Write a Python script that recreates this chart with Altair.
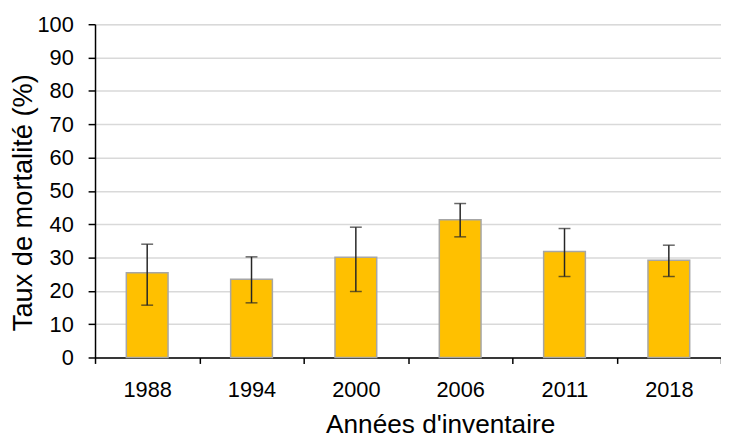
import altair as alt
import pandas as pd

years = ["1988", "1994", "2000", "2006", "2011", "2018"]
rates = [25.4, 23.5, 30.1, 41.3, 31.8, 29.2]
err_low = [15.7, 16.4, 19.8, 36.2, 24.3, 24.3]
err_high = [34.0, 30.2, 39.1, 46.2, 38.7, 33.7]
y_ticks = [0, 10, 20, 30, 40, 50, 60, 70, 80, 90, 100]

df = pd.DataFrame({"annee": years, "taux": rates, "lo": err_low, "hi": err_high})

FONT = "Liberation Sans"

x_axis = alt.Axis(
    title="Années d'inventaire",
    labelAngle=0,
    labelFont=FONT, labelFontSize=22, labelColor="#000000",
    labelBaseline="alphabetic", labelPadding=33,
    titleFont=FONT, titleFontSize=26.5, titleFontWeight="normal", titleColor="#000000",
    titleX=349, titleY=76, titleAlign="center", titleBaseline="alphabetic",
    domainColor="#000000", domainWidth=1.5,
    tickColor="#000000", tickWidth=1.5, tickSize=6, tickBand="extent",
    grid=False,
)
x_scale = alt.Scale(paddingInner=0, paddingOuter=0)

y_scale = alt.Scale(domain=[0, 100], nice=False)
y_axis = alt.Axis(
    title="Taux de mortalité (%)",
    values=y_ticks,
    tickCount=20,
    labelOverlap=False,
    labelFont=FONT, labelFontSize=22, labelColor="#000000", labelPadding=15,
    titleFont=FONT, titleFontSize=27.5, titleFontWeight="normal", titleColor="#000000",
    titleAngle=270, titleX=-64, titleY=180, titleAlign="center", titleBaseline="alphabetic",
    domainColor="#000000", domainWidth=1.5,
    tickColor="#000000", tickWidth=1.5, tickSize=7,
    grid=True, gridColor="#d9d9d9", gridWidth=1.5,
)


def xe():
    return alt.X("annee:N", sort=years, scale=x_scale, axis=x_axis)


def ye(field):
    return alt.Y(field, type="quantitative", scale=y_scale, axis=y_axis)


bars = alt.Chart(df).mark_bar(
    width=alt.RelativeBandSize(0.4),
    color="#FFC000", stroke="#a6a6a6", strokeWidth=1.5,
).encode(x=xe(), y=ye("taux"))

rules = alt.Chart(df).mark_rule(color="#262626", strokeWidth=1.5).encode(
    x=xe(), y=ye("lo"), y2="hi:Q"
)

cap_hi = alt.Chart(df).mark_tick(color="#262626", thickness=1.5, size=12).encode(
    x=xe(), y=ye("hi")
)
cap_lo = alt.Chart(df).mark_tick(color="#262626", thickness=1.5, size=12).encode(
    x=xe(), y=ye("lo")
)

chart = alt.layer(bars, rules, cap_hi, cap_lo).properties(
    width=633, height=337,
    autosize=alt.AutoSizeParams(type="none"),
    padding={"left": 88, "top": 14, "right": 0, "bottom": 79},
).configure_view(stroke=None).configure(background="#ffffff")

chart.save("out.html", embed_options={"renderer": "svg", "actions": False})
